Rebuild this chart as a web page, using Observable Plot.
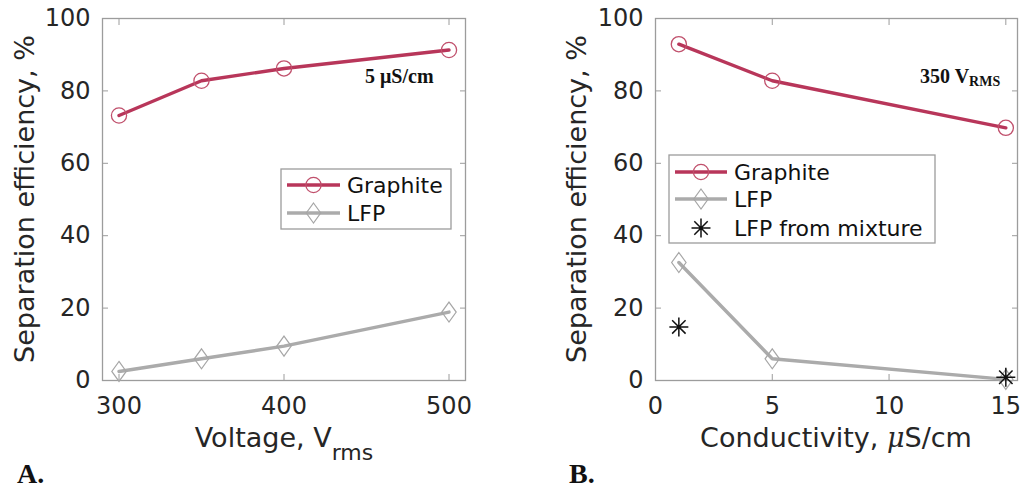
<!DOCTYPE html>
<html>
<head>
<meta charset="utf-8">
<script src="https://cdn.jsdelivr.net/npm/d3@7"></script>
<script src="https://cdn.jsdelivr.net/npm/@observablehq/plot@0.6"></script>
<style>
  html, body { margin: 0; padding: 0; background: white; }
  #wrap { position: relative; width: 1024px; height: 490px; overflow: hidden; }
  .panel { position: absolute; top: 0; width: 512px; height: 490px; }
  .panel svg g[aria-label$="tick label"] text { font-size: 24px; }
</style>
</head>
<body>
<div id="wrap">
  <div class="panel" id="pa" style="left:0"></div>
  <div class="panel" id="pb" style="left:512px"></div>
</div>
<script>
// ---- Data ----
const voltage = [300, 350, 400, 500];
const graphiteByVoltage = [73.2, 82.8, 86.2, 91.3];
const lfpByVoltage = [2.5, 6.0, 9.5, 18.9];

const conductivity = [1, 5, 15];
const graphiteByCond = [92.9, 82.8, 69.8];
const lfpByCond = [32.6, 6.0, 0.3];

const mixtureCond = [1, 15];
const lfpMixture = [14.8, 0.9];

const voltageTicks = [300, 400, 500];
const condTicks = [0, 5, 10, 15];
const effTicks = [0, 20, 40, 60, 80, 100];

const seriesNames = ["Graphite", "LFP", "LFP from mixture"];

// ---- Styles ----
const RED = "#b8365a";
const RED_MK = "#c0506c";
const GRAY = "#ababab";
const GRAY_MK = "#a6a6a6";
const FRAME = "#9c9c9c";
const INK = "#262626";

// custom MATLAB-like symbols
const diamondSym = {
  draw(ctx, size) {
    const r = Math.sqrt(size / Math.PI);
    const h = r * 1.25, w = r * 0.9;
    ctx.moveTo(0, -h); ctx.lineTo(w, 0); ctx.lineTo(0, h); ctx.lineTo(-w, 0); ctx.closePath();
  }
};
const starSym = {
  draw(ctx, size) {
    const r = Math.sqrt(size / Math.PI);
    const d = r * Math.SQRT1_2;
    ctx.moveTo(-r, 0); ctx.lineTo(r, 0);
    ctx.moveTo(0, -r); ctx.lineTo(0, r);
    ctx.moveTo(-d, -d); ctx.lineTo(d, d);
    ctx.moveTo(-d, d); ctx.lineTo(d, -d);
  }
};

function panel({xs, g, l, mixX, mixY, xDomain, xTicks, margins}) {
  const gData = xs.map((x, i) => ({x, y: g[i]}));
  const lData = xs.map((x, i) => ({x, y: l[i]}));
  const mData = mixX ? mixX.map((x, i) => ({x, y: mixY[i]})) : [];
  return Plot.plot({
    width: 512, height: 490,
    ...margins,
    style: {fontFamily: "DejaVu Sans", fontSize: "24px", color: INK, background: "white", overflow: "visible"},
    x: {domain: xDomain, label: null},
    y: {domain: [0, 100], label: null},
    marks: [
      Plot.frame({stroke: FRAME, strokeWidth: 1.3}),
      // inward ticks on all four sides
      Plot.axisY(effTicks, {anchor: "left", tickSize: -6, fill: "none", stroke: FRAME, label: null}),
      Plot.axisY(effTicks, {anchor: "right", tickSize: -6, fill: "none", stroke: FRAME, label: null}),
      Plot.axisX(xTicks, {anchor: "bottom", tickSize: -6, fill: "none", stroke: FRAME, label: null}),
      Plot.axisX(xTicks, {anchor: "top", tickSize: -6, fill: "none", stroke: FRAME, label: null}),
      // tick labels
      Plot.axisY(effTicks, {anchor: "left", tickSize: 0, tickPadding: 12, fill: INK, label: null, fontSize: 24}),
      Plot.axisX(xTicks, {anchor: "bottom", tickSize: 0, tickPadding: 16, fill: INK, label: null, fontSize: 24}),
      // series
      Plot.line(lData, {x: "x", y: "y", stroke: GRAY, strokeWidth: 3.4}),
      Plot.line(gData, {x: "x", y: "y", stroke: RED, strokeWidth: 3.4}),
      Plot.dot(lData, {x: "x", y: "y", symbol: diamondSym, r: 8, stroke: GRAY_MK, strokeWidth: 1.2, fill: "none"}),
      Plot.dot(gData, {x: "x", y: "y", symbol: "circle", r: 7.6, stroke: RED_MK, strokeWidth: 1.3, fill: "none"}),
      Plot.dot(mData, {x: "x", y: "y", symbol: starSym, r: 9.5, stroke: "#111", strokeWidth: 1.5, fill: "none"})
    ]
  });
}

const svgA = panel({
  xs: voltage, g: graphiteByVoltage, l: lfpByVoltage,
  xDomain: [290, 510], xTicks: voltageTicks,
  margins: {marginLeft: 102, marginRight: 47, marginTop: 18, marginBottom: 110}
});
const svgB = panel({
  xs: conductivity, g: graphiteByCond, l: lfpByCond, mixX: mixtureCond, mixY: lfpMixture,
  xDomain: [0, 15.5], xTicks: condTicks,
  margins: {marginLeft: 143, marginRight: 7, marginTop: 18, marginBottom: 110}
});
document.getElementById("pa").appendChild(svgA);
document.getElementById("pb").appendChild(svgB);

function decorate(svg, o) {
  const s = d3.select(svg);
  // y label
  s.append("text")
    .attr("transform", `translate(${o.ylabX},199) rotate(-90)`)
    .attr("text-anchor", "middle").attr("dominant-baseline", "central")
    .style("font-family", "DejaVu Sans").style("font-size", "27px").attr("fill", INK)
    .text("Separation efficiency, %");
  // x label
  const xl = s.append("text")
    .attr("x", o.xlabX).attr("y", 447).attr("text-anchor", "middle")
    .style("font-family", "DejaVu Sans").style("font-size", "27px").attr("fill", INK);
  o.xlabel(xl);
  // annotation
  const an = s.append("text").attr("x", o.annX).attr("y", 83).attr("text-anchor", "start")
    .style("font-family", "Liberation Serif").style("font-weight", "bold").style("font-size", "20px").attr("fill", "#111");
  o.ann(an);
  // panel letter
  s.append("text").attr("x", o.letterX).attr("y", 483).attr("text-anchor", "start")
    .style("font-family", "Liberation Serif").style("font-weight", "bold").style("font-size", "28px").attr("fill", "#111")
    .text(o.letter);
  // legend
  const L = o.legend;
  const lg = s.append("g");
  lg.append("rect").attr("x", L.x0).attr("y", L.y0).attr("width", L.x1 - L.x0).attr("height", L.y1 - L.y0)
    .attr("fill", "white").attr("stroke", FRAME).attr("stroke-width", 1.3);
  L.rows.forEach((ry, i) => {
    const name = seriesNames[i];
    const cx = (L.lx0 + L.lx1) / 2;
    if (i === 0) {
      lg.append("line").attr("x1", L.lx0).attr("x2", L.lx1).attr("y1", ry).attr("y2", ry).attr("stroke", RED).attr("stroke-width", 3.4);
      lg.append("circle").attr("cx", cx).attr("cy", ry).attr("r", 7.6).attr("fill", "none").attr("stroke", RED_MK).attr("stroke-width", 1.3);
    } else if (i === 1) {
      lg.append("line").attr("x1", L.lx0).attr("x2", L.lx1).attr("y1", ry).attr("y2", ry).attr("stroke", GRAY).attr("stroke-width", 3.4);
      const p = d3.path(); diamondSym.draw(p, Math.PI * 64);
      lg.append("path").attr("d", p.toString()).attr("transform", `translate(${cx},${ry})`).attr("fill", "none").attr("stroke", GRAY_MK).attr("stroke-width", 1.2);
    } else {
      const p = d3.path(); starSym.draw(p, Math.PI * 90);
      lg.append("path").attr("d", p.toString()).attr("transform", `translate(${cx},${ry})`).attr("fill", "none").attr("stroke", "#111").attr("stroke-width", 1.5);
    }
    lg.append("text").attr("x", L.tx).attr("y", ry).attr("dominant-baseline", "central").attr("text-anchor", "start")
      .style("font-family", "DejaVu Sans").style("font-size", "22px").attr("fill", "#111").text(name);
  });
}

decorate(svgA, {
  ylabX: 24, xlabX: 284, annX: 365, letterX: 17, letter: "A.",
  xlabel: t => { t.append("tspan").text("Voltage, V"); t.append("tspan").attr("dy", 13).style("font-size", "22px").text("rms"); },
  ann: t => { t.text("5 μS/cm"); },
  legend: {x0: 281, y0: 169, x1: 451, y1: 229, rows: [185, 213], lx0: 287, lx1: 340, tx: 347}
});
decorate(svgB, {
  ylabX: 64, xlabX: 324, annX: 408, letterX: 57, letter: "B.",
  xlabel: t => { t.append("tspan").text("Conductivity, "); t.append("tspan").style("font-style", "italic").style("font-family", "DejaVu Serif").text("μ"); t.append("tspan").text("S/cm"); },
  ann: t => { t.append("tspan").text("350 V"); t.append("tspan").attr("dy", 3).style("font-size", "14px").text("RMS"); },
  legend: {x0: 157, y0: 155, x1: 423, y1: 243, rows: [172, 199, 228], lx0: 163, lx1: 215, tx: 222}
});
</script>
</body>
</html>
